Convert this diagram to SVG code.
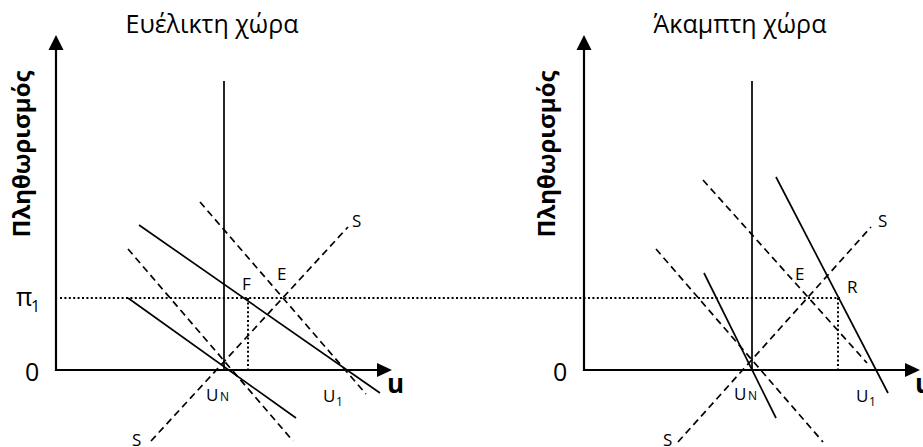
<svg xmlns="http://www.w3.org/2000/svg" width="923" height="447" viewBox="0 0 923 447">
<style>
  text { font-family: "Open Sans", "Noto Sans", "DejaVu Sans", sans-serif; fill: #000; }
  .title { font-size: 25px; text-anchor: middle; }
  .ylab { font-size: 24px; font-weight: bold; text-anchor: middle; }
  .lab { font-size: 17px; }
  .sub { font-size: 12px; }
  .big { font-size: 25px; }
  .ubold { font-size: 26px; font-weight: bold; }
  .axis { stroke: #000; stroke-width: 2.2; fill: none; }
  .solid { stroke: #000; stroke-width: 1.7; fill: none; }
  .dash { stroke: #000; stroke-width: 1.7; fill: none; stroke-dasharray: 7 4.5; }
  .dot { stroke: #000; stroke-width: 2; fill: none; stroke-dasharray: 2 2.4; }
  .head { fill: #000; }
</style>
<rect width="923" height="447" fill="#fff"/>

<!-- Left panel -->
<g id="left-panel">
  <text class="title" x="212" y="33">Ευέλικτη χώρα</text>
  <text class="ylab" transform="translate(30,154) rotate(-90)">Πληθωρισμός</text>
  <g id="left-axes">
    <line class="axis" x1="56" y1="371" x2="56" y2="48"/>
    <polygon class="head" points="56,35 48.5,50 63.5,50"/>
    <line class="axis" x1="55" y1="370" x2="379" y2="370"/>
    <polygon class="head" points="392,370 377,363 377,377"/>
  </g>
  <text class="big" x="25" y="381">0</text>
  <text class="big" x="16" y="306">π</text>
  <text x="31" y="312" style="font-size:16px">1</text>
  <text class="ubold" x="387" y="393">u</text>
</g>

<!-- Right panel -->
<g id="right-panel">
  <text class="title" x="740" y="33">Άκαμπτη χώρα</text>
  <text class="ylab" transform="translate(555,154) rotate(-90)">Πληθωρισμός</text>
  <g id="right-axes">
    <line class="axis" x1="584" y1="371" x2="584" y2="48"/>
    <polygon class="head" points="584,35 576.5,50 591.5,50"/>
    <line class="axis" x1="583" y1="370" x2="907" y2="370"/>
    <polygon class="head" points="920,370 905,363 905,377"/>
  </g>
  <text class="big" x="553" y="381">0</text>
  <text class="ubold" x="915" y="393">u</text>
</g>

<g id="connectors">
  <!-- shared dotted pi1 line -->
  <line class="dot" x1="60" y1="298" x2="840" y2="298"/>

  <!-- left panel curves -->
  <line class="solid" x1="224" y1="81" x2="224" y2="370"/>
  <line class="solid" x1="139" y1="225" x2="380" y2="393"/>
  <line class="solid" x1="128" y1="298" x2="296" y2="418"/>
  <line class="dash" x1="200" y1="202" x2="366" y2="394"/>
  <line class="dash" x1="128" y1="249" x2="293" y2="441"/>
  <line class="dash" x1="151" y1="441" x2="348" y2="227"/>
  <line class="dot" x1="248" y1="298" x2="248" y2="370"/>

  <!-- right panel curves -->
  <line class="solid" x1="752" y1="81" x2="752" y2="370"/>
  <line class="solid" x1="704" y1="273" x2="776" y2="418"/>
  <line class="solid" x1="776" y1="177" x2="888" y2="393"/>
  <line class="dash" x1="703" y1="180" x2="867" y2="363"/>
  <line class="dash" x1="656" y1="249" x2="823" y2="442"/>
  <line class="dash" x1="678" y1="442" x2="871" y2="227"/>
  <line class="dot" x1="838" y1="298" x2="838" y2="370"/>
</g>

<g id="left-labels">
  <text class="lab" x="352" y="227">S</text>
  <text class="lab" x="277" y="280">E</text>
  <text class="lab" x="242" y="290">F</text>
  <text class="lab" x="206" y="401">U</text>
  <text class="sub" x="220" y="401">N</text>
  <text class="lab" x="323" y="402">U</text>
  <text class="sub" x="336" y="406">1</text>
  <text class="lab" x="132" y="446">S</text>
</g>

<g id="right-labels">
  <text class="lab" x="878" y="227">S</text>
  <text class="lab" x="795" y="280">E</text>
  <text class="lab" x="847" y="293">R</text>
  <text class="lab" x="734" y="400">U</text>
  <text class="sub" x="748" y="400">N</text>
  <text class="lab" x="856" y="402">U</text>
  <text class="sub" x="869" y="406">1</text>
  <text class="lab" x="663" y="446">S</text>
</g>
</svg>
